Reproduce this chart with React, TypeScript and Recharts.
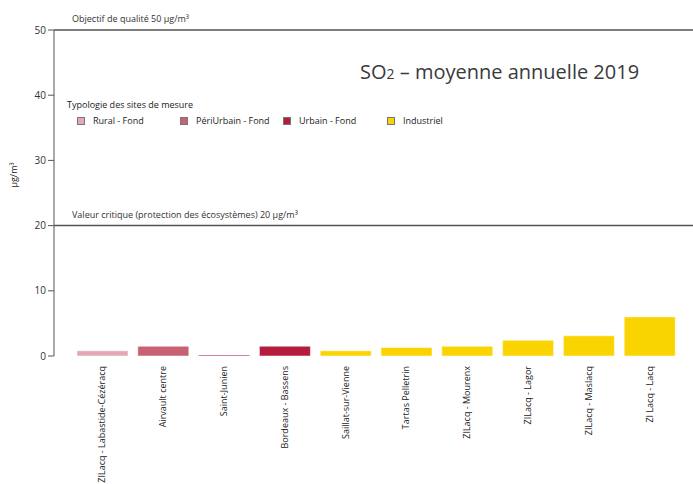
import { BarChart, Bar, XAxis, YAxis, Cell, ReferenceLine } from "recharts";

const sites = [
  "ZILacq - Labastide-Cézéracq",
  "Airvault centre",
  "Saint-Junien",
  "Bordeaux - Bassens",
  "Saillat-sur-Vienne",
  "Tartas Pelletrin",
  "ZILacq - Mourenx",
  "ZILacq - Lagor",
  "ZILacq - Maslacq",
  "ZI Lacq - Lacq",
];
const so2Values = [0.8, 1.5, 0.15, 1.5, 0.8, 1.3, 1.5, 2.4, 3.1, 6.0];
const siteTypes = [
  "Rural - Fond",
  "PériUrbain - Fond",
  "Urbain - Fond",
  "Urbain - Fond",
  "Industriel",
  "Industriel",
  "Industriel",
  "Industriel",
  "Industriel",
  "Industriel",
];
const typeLabels = ["Rural - Fond", "PériUrbain - Fond", "Urbain - Fond", "Industriel"];
const typeColors = ["#e4a7b5", "#c86173", "#b41c3c", "#fad400"];
const yTicks = [0, 10, 20, 30, 40, 50];

const FONT = "'Open Sans', 'DejaVu Sans', sans-serif";

const data = sites.map((site, i) => ({ site, value: so2Values[i], type: siteTypes[i] }));

const colorFor = (type: string) => typeColors[typeLabels.indexOf(type)];

function SiteTick({ x, y, payload }: any) {
  return (
    <g transform={`translate(${x},${y})`}>
      <text transform="rotate(-90)" textAnchor="end" dy={3} x={-2} fontSize={9} fill="#222" fontFamily={FONT}>
        {payload.value}
      </text>
    </g>
  );
}

function LineLabel(text: string) {
  return ({ viewBox }: any) => (
    <text x={viewBox.x + 18} y={viewBox.y - 8} fontSize={9} fill="#333" fontFamily={FONT}>
      {text}
    </text>
  );
}

// legend drawn outside the chart so it doesn't eat the plot margin
function TypeLegend() {
  const offsets = [0, 103, 206, 310];
  return (
    <div style={{ position: "absolute", left: 67, top: 98, width: 420, height: 30, fontFamily: FONT, fontSize: 9, color: "#222" }}>
      <div style={{ position: "absolute", left: 0, top: 0 }}>Typologie des sites de mesure</div>
      {typeLabels.map((label, i) => (
        <div key={label} style={{ position: "absolute", left: 10 + offsets[i], top: 16, display: "flex", alignItems: "center" }}>
          <span style={{ display: "inline-block", width: 6, height: 6, backgroundColor: typeColors[i], border: "1px solid #777", marginRight: 8 }}></span>
          <span>{label}</span>
        </div>
      ))}
    </div>
  );
}

export default function App() {
  return (
    <div style={{ position: "absolute", left: 0, top: 0, width: 693, height: 484, background: "#fff" }}>
      <BarChart
        width={693}
        height={484}
        data={data}
        margin={{ top: 30, right: 0, left: 0, bottom: 0 }}
      >
        <XAxis
          dataKey="site"
          interval={0}
          height={128}
          axisLine={false}
          tickLine={false}
          tick={<SiteTick />}
          padding={{ left: 18, right: 13 }}
        />
        <YAxis
          width={54}
          domain={[0, 50]}
          ticks={yTicks}
          interval={0}
          axisLine={{ stroke: "#555" }}
          tickLine={{ stroke: "#555" }}
          tickSize={6}
          tickMargin={2}
          tick={{ fontSize: 10, fill: "#333", fontFamily: FONT }}
        />
        <ReferenceLine y={50} stroke="#555" strokeWidth={1.5} label={LineLabel("Objectif de qualité 50 µg/m³")} />
        <ReferenceLine y={20} stroke="#555" strokeWidth={1.5} label={LineLabel("Valeur critique (protection des écosystèmes) 20 µg/m³")} />
        <Bar dataKey="value" barSize={51} isAnimationActive={false} stroke="rgba(255,255,255,0.5)" strokeWidth={1}>
          {data.map((d, i) => (
            <Cell key={`cell-${i}`} fill={colorFor(d.type)} />
          ))}
        </Bar>
      </BarChart>
      <TypeLegend />
      <div style={{ position: "absolute", left: 360, top: 58, fontFamily: FONT, fontSize: 20, color: "#3a3a3a", whiteSpace: "nowrap" }}>
        SO<span style={{ fontSize: 14 }}>2</span> – moyenne annuelle 2019
      </div>
      <div style={{ position: "absolute", left: 13, top: 175, fontFamily: FONT, fontSize: 9, color: "#222", transform: "translate(-50%, -50%) rotate(-90deg)", whiteSpace: "nowrap" }}>
        µg/m³
      </div>
    </div>
  );
}
